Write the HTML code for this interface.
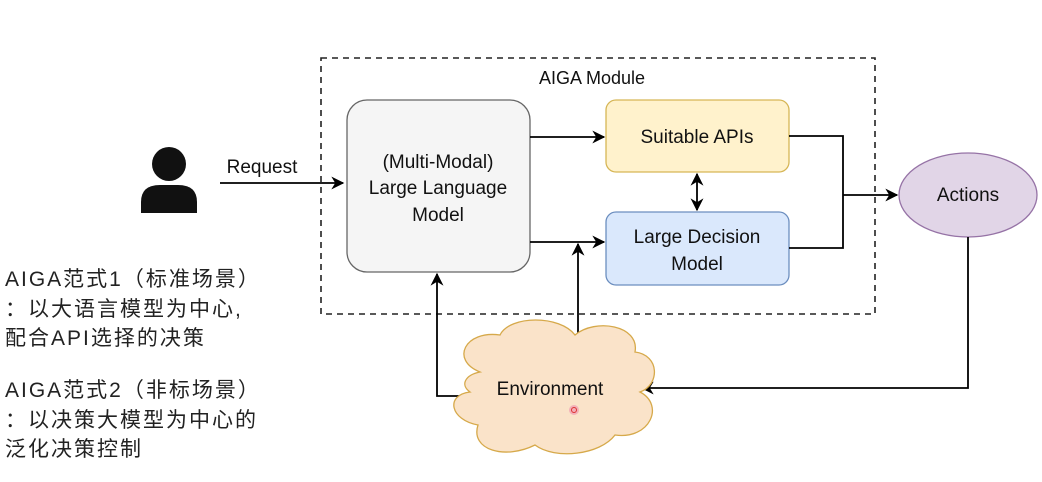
<!DOCTYPE html>
<html><head><meta charset="utf-8"><style>
html,body{margin:0;padding:0;background:#fff;width:1042px;height:482px;overflow:hidden}
svg{display:block}
text{font-family:"Liberation Sans","Noto Sans CJK SC",sans-serif;fill:#111}
.cn{font-family:"Liberation Sans","Noto Sans CJK SC",sans-serif;font-size:21px;fill:#222;letter-spacing:2px}
</style></head><body>
<svg width="1042" height="482" viewBox="0 0 1042 482" xmlns="http://www.w3.org/2000/svg">
<defs>
<marker id="b" viewBox="0 0 10 10" refX="9" refY="5" markerWidth="13" markerHeight="13" markerUnits="userSpaceOnUse" orient="auto-start-reverse">
<path d="M0,0 L10,5 L0,10 L3,5 z" fill="#000"/></marker>
</defs>
<rect x="321" y="58" width="554" height="256" fill="none" stroke="#222" stroke-width="1.6" stroke-dasharray="6,5"/>
<text x="592" y="84" font-size="18" text-anchor="middle">AIGA Module</text>
<circle cx="169" cy="164" r="17" fill="#111"/>
<path d="M141,213 L141,202 Q141,185 160,185 L178,185 Q197,185 197,202 L197,213 Z" fill="#111"/>
<line x1="220" y1="183" x2="343" y2="183" stroke="#000" stroke-width="1.8" marker-end="url(#b)"/>
<text x="262" y="173" font-size="19" text-anchor="middle">Request</text>
<rect x="347" y="100" width="183" height="172" rx="20" fill="#f5f5f5" stroke="#666" stroke-width="1.3"/>
<text x="438" y="168" font-size="19" text-anchor="middle">(Multi-Modal)</text>
<text x="438" y="194" font-size="19" text-anchor="middle">Large Language</text>
<text x="438" y="221" font-size="19" text-anchor="middle">Model</text>
<rect x="606" y="100" width="183" height="72" rx="10" fill="#fff2cc" stroke="#d6b656" stroke-width="1.3"/>
<text x="697" y="143" font-size="19" text-anchor="middle">Suitable APIs</text>
<rect x="606" y="212" width="183" height="73" rx="10" fill="#dae8fc" stroke="#6c8ebf" stroke-width="1.3"/>
<text x="697" y="243" font-size="19" text-anchor="middle">Large Decision</text>
<text x="697" y="270" font-size="19" text-anchor="middle">Model</text>
<ellipse cx="968" cy="195" rx="69" ry="42" fill="#e1d5e7" stroke="#9673a6" stroke-width="1.3"/>
<text x="968" y="201" font-size="19" text-anchor="middle">Actions</text>
<line x1="530" y1="137" x2="604" y2="137" stroke="#000" stroke-width="1.8" marker-end="url(#b)"/>
<line x1="530" y1="242" x2="604" y2="242" stroke="#000" stroke-width="1.8" marker-end="url(#b)"/>
<line x1="697" y1="174" x2="697" y2="210" stroke="#000" stroke-width="1.8" marker-start="url(#b)" marker-end="url(#b)"/>
<polyline points="789,136 843,136 843,248 789,248" fill="none" stroke="#000" stroke-width="1.8"/>
<line x1="843" y1="195" x2="897" y2="195" stroke="#000" stroke-width="1.8" marker-end="url(#b)"/>
<polyline points="968,237 968,388 642,388" fill="none" stroke="#000" stroke-width="1.8" marker-end="url(#b)"/>
<polyline points="472,396 437,396 437,274" fill="none" stroke="#000" stroke-width="1.8" marker-end="url(#b)"/>
<line x1="578" y1="345" x2="578" y2="244" stroke="#000" stroke-width="1.8" marker-end="url(#b)"/>
<path d="M480,372 C450,360 465,330 500,335 C510,315 560,315 575,335 C595,318 640,325 635,352 C660,355 660,385 640,392 C665,405 650,440 615,435 C600,455 555,460 535,445 C505,460 470,450 478,425 C450,420 445,395 470,392 C460,385 465,375 480,372 Z" fill="#fae3c9" stroke="#d6a94a" stroke-width="1.3"/>
<text x="550" y="395" font-size="19" text-anchor="middle">Environment</text>
<circle cx="574" cy="410" r="5" fill="#f3b0b8"/><circle cx="574" cy="410" r="2.5" fill="none" stroke="#d33" stroke-width="1"/>
<text class="cn" x="5" y="286">AIGA范式1（标准场景）</text>
<text class="cn" x="5" y="316">：以大语言模型为中心,</text>
<text class="cn" x="5" y="345">配合API选择的决策</text>
<text class="cn" x="5" y="397">AIGA范式2（非标场景）</text>
<text class="cn" x="5" y="427">：以决策大模型为中心的</text>
<text class="cn" x="5" y="456">泛化决策控制</text>
</svg>
</body></html>
